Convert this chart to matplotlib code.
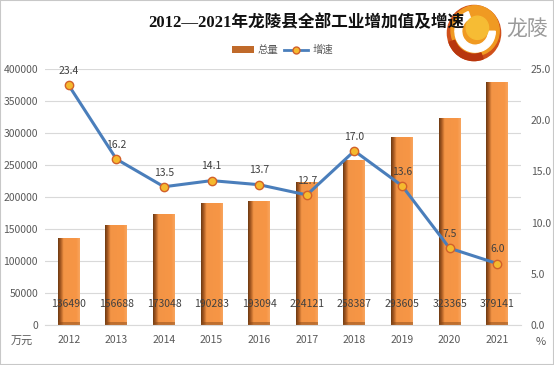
import matplotlib
matplotlib.use("Agg")
import matplotlib.pyplot as plt
import numpy as np
from matplotlib.patches import Rectangle, Circle, Wedge, Ellipse
from matplotlib.colors import LinearSegmentedColormap

plt.rcParams['font.family'] = ['Noto Sans CJK SC', 'DejaVu Sans']

years = ['2012', '2013', '2014', '2015', '2016', '2017', '2018', '2019', '2020', '2021']
totals = [136490, 156688, 173048, 190283, 193094, 224121, 258387, 293605, 323365, 379141]
growth = [23.4, 16.2, 13.5, 14.1, 13.7, 12.7, 17.0, 13.6, 7.5, 6.0]
title = '2012—2021年龙陵县全部工业增加值及增速'

W, H = 554, 365
fig = plt.figure(figsize=(W / 100, H / 100), dpi=100)
ax = fig.add_axes([45 / W, 40 / H, (521 - 45) / W, (325 - 69) / H])
ax2 = ax.twinx()

x = np.arange(len(years))
bars = ax.bar(x, totals, width=0.46, color='#F79646', zorder=2)

# gradient shading on bars
cmap = LinearSegmentedColormap.from_list(
    'b', [(0, '#6e3a12'), (0.12, '#a85a22'), (0.25, '#f39445'), (0.85, '#F79646'), (1.0, '#f8a55e')])
grad = np.linspace(0, 1, 64).reshape(1, -1)
for b in bars:
    bx, bw, bh = b.get_x(), b.get_width(), b.get_height()
    im = ax.imshow(grad, extent=[bx, bx + bw, 0, bh], aspect='auto', cmap=cmap, zorder=2.1)
    im.set_clip_path(b)
    ax.add_patch(Rectangle((bx, 0), bw, 5000, color='#8a4a18', alpha=0.5, zorder=2.2, lw=0))

ax.set_xlim(-0.5, len(years) - 0.5)
ax.set_ylim(0, 400000)
ax.set_yticks(np.arange(0, 400001, 50000))
ax.set_xticks(x)
ax.set_xticklabels(years)
ax.grid(axis='y', color='#d9d9d9', lw=0.8, zorder=0)
ax.set_axisbelow(True)
for s in ['top', 'right', 'left']:
    ax.spines[s].set_visible(False)
ax.spines['bottom'].set_color('#d9d9d9')
ax.tick_params(axis='both', length=0, labelsize=7.5, colors='#595959')
ax.tick_params(axis='x', pad=7)
ax.tick_params(axis='y', pad=5)

for xi, v in zip(x, totals):
    ax.text(xi, 33000, str(v), ha='center', va='center', fontsize=7.5, color='#404040', zorder=5)

ax2.set_ylim(0, 25)
ax2.set_yticks(np.arange(0, 25.1, 5))
ax2.set_yticklabels([f'{v:.1f}' for v in np.arange(0, 25.1, 5)])
for s in ['top', 'right', 'left', 'bottom']:
    ax2.spines[s].set_visible(False)
ax2.tick_params(axis='y', length=0, labelsize=7.5, colors='#595959', pad=7)
ax2.plot(x, growth, color='#4a7ebb', lw=2.2, marker='o', markersize=6,
         markerfacecolor='#f5b92e', markeredgecolor='#d2602a', markeredgewidth=1, zorder=6)
for xi, g in zip(x, growth):
    ax2.text(xi, g + 0.9, f'{g:.1f}', ha='center', va='bottom', fontsize=7.5, color='#404040')

fig.text(22 / W, 1 - 342 / H, '万元', ha='center', va='center', fontsize=8, color='#595959')
fig.text(541 / W, 1 - 342 / H, '%', ha='center', va='center', fontsize=8, color='#595959')

fig.text(148 / W, 1 - 23 / H, title, ha='left', va='center', fontsize=12, fontweight='bold',
         color='#111111', family=['Liberation Serif', 'Noto Sans CJK SC'])

# legend
lx, ly = 232 / W, 1 - 50 / H
fig.patches.append(Rectangle((lx, ly - 3 / H), 22 / W, 7 / H, transform=fig.transFigure,
                             facecolor='#c06a2a', edgecolor='none'))
fig.text(lx + 26 / W, ly, '总量', ha='left', va='center', fontsize=7.5, color='#595959')
fig.add_artist(plt.Line2D([lx + 52 / W, lx + 76 / W], [ly, ly], transform=fig.transFigure,
                          color='#4a7ebb', lw=2))
fig.add_artist(plt.Line2D([lx + 64 / W], [ly], transform=fig.transFigure, marker='o', markersize=5,
                          markerfacecolor='#f5b92e', markeredgecolor='#d2602a', lw=0))
fig.text(lx + 81 / W, ly, '增速', ha='left', va='center', fontsize=7.5, color='#595959')

# logo
lax = fig.add_axes([446 / W, 1 - 62 / H, 56 / W, 58 / H])
lax.set_xlim(-1, 1); lax.set_ylim(-1, 1); lax.axis('off')
lax.add_patch(Ellipse((0, 0), 1.9, 1.9, color='#d0501a'))
lax.add_patch(Ellipse((0.04, 0.08), 1.72, 1.72, color='#f09a22'))
lax.add_patch(Wedge((0.04, 0.06), 0.72, 110, 360, width=0.24, color='white'))
lax.add_patch(Ellipse((0.12, 0.18), 0.8, 0.8, color='#f6bc34'))
lax.add_patch(Wedge((0, 0), 0.95, 200, 290, width=0.22, color='#b8360e'))
fig.text(506 / W, 1 - 30 / H, '龙陵', ha='left', va='center', fontsize=15, color='#9a9a9a')

fig.patches.append(Rectangle((0, 0), 1, 1, transform=fig.transFigure, fill=False,
                             edgecolor='#c8c8c8', lw=1.5))

fig.savefig('out.png', dpi=100)
